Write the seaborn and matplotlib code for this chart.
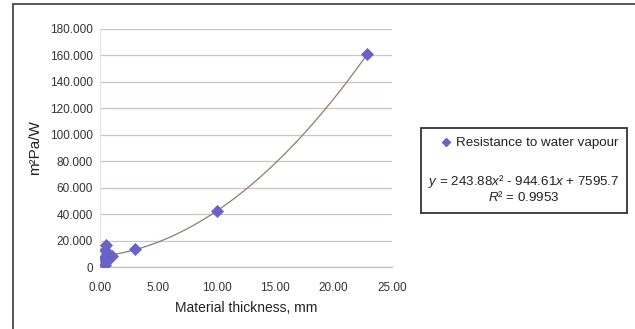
import numpy as np
import pandas as pd
import matplotlib
matplotlib.use("Agg")
import matplotlib.pyplot as plt
from matplotlib.patches import Rectangle
from matplotlib.lines import Line2D
from matplotlib.ticker import FuncFormatter
import seaborn as sns

# Measured samples: thickness (mm) vs. water vapour resistance (m2Pa/W)
thickness_mm = [0.5, 0.4, 0.6, 0.3, 0.5, 0.4, 0.8, 1.0, 3.0, 10.0, 22.9]
resistance = [17000, 13000, 10000, 7000, 4000, 1500, 8000, 8500, 14000, 42000, 161000]

series_label = "Resistance to water vapour"
equation_text = r"$y$ = 243.88$x$² - 944.61$x$ + 7595.7"
r2_text = r"$R$² = 0.9953"

x_ticks = [0, 5, 10, 15, 20, 25]
y_ticks = [0, 20000, 40000, 60000, 80000, 100000, 120000, 140000, 160000, 180000]

df = pd.DataFrame({"thickness": thickness_mm, "resistance": resistance})

sns.set_style("white")
plt.rcParams["font.family"] = ["Liberation Sans", "DejaVu Sans"]
plt.rcParams["mathtext.fontset"] = "custom"
plt.rcParams["mathtext.it"] = "Liberation Sans:italic"
plt.rcParams["mathtext.rm"] = "Liberation Sans"

fig = plt.figure(figsize=(6.35, 3.29), dpi=100)
ax = fig.add_axes([0.1575, 0.1884, 0.4595, 0.7236])

marker_color = "#6a62c6"
trend_color = "#8c7d74"

# Second-order trendline fitted to the samples
sns.regplot(data=df, x="thickness", y="resistance", order=2, ci=None,
            scatter=False, truncate=True, ax=ax,
            line_kws=dict(color=trend_color, lw=0.9))
sns.scatterplot(data=df, x="thickness", y="resistance", ax=ax,
                marker="D", s=38, color=marker_color, edgecolor=marker_color,
                linewidth=0.5, zorder=5, legend=False)

ax.set_xlim(0, 25)
ax.set_ylim(0, 180000)
ax.set_xticks(x_ticks)
ax.set_yticks(y_ticks)
ax.xaxis.set_major_formatter(FuncFormatter(lambda v, p: f"{v:.2f}"))
ax.yaxis.set_major_formatter(
    FuncFormatter(lambda v, p: "0" if v == 0 else f"{int(v):,}".replace(",", ".")))
ax.tick_params(axis="both", labelsize=8.5, colors="#333333", length=0)
ax.tick_params(axis="x", pad=11)
ax.tick_params(axis="y", pad=5)
ax.grid(axis="y", color="#cfc5c0", lw=0.9)
ax.set_axisbelow(True)
for side in ["top", "right"]:
    ax.spines[side].set_visible(False)
ax.spines["left"].set_color("#e4e4e4")
ax.spines["bottom"].set_color("#c8bfba")
ax.spines["left"].set_linewidth(0.8)
ax.spines["bottom"].set_linewidth(0.9)

ax.set_xlabel("Material thickness, mm", fontsize=10, color="#222222", labelpad=5)
ax.set_ylabel("m²Pa/W", fontsize=11, color="#222222", labelpad=6)

# Chart frame (top and left edges)
fig.add_artist(Line2D([13 / 635, 13 / 635], [0, 1 - 4 / 329],
                      transform=fig.transFigure, color="#555555", lw=1.4))
fig.add_artist(Line2D([13 / 635, 1], [1 - 4 / 329, 1 - 4 / 329],
                      transform=fig.transFigure, color="#555555", lw=1.4))

# Legend box with trendline equation
box_l, box_r, box_t, box_b = 421, 627, 128, 213
fig.add_artist(Rectangle((box_l / 635, 1 - box_b / 329), (box_r - box_l) / 635,
                         (box_b - box_t) / 329, transform=fig.transFigure,
                         fill=False, edgecolor="#333333", lw=1.3))
handle = Line2D([], [], marker="D", ls="none", color=marker_color, markersize=4)
fig.legend([handle], [series_label], loc="center",
           bbox_to_anchor=(529 / 635, 1 - 143 / 329),
           frameon=False, fontsize=9.6, handletextpad=0.3, handlelength=1.0,
           borderpad=0, labelcolor="#222222")
cx = (box_l + box_r) / 2 / 635
fig.text(cx, 1 - 181 / 329, equation_text, ha="center", va="center",
         fontsize=9.6, color="#222222")
fig.text(cx, 1 - 197 / 329, r2_text, ha="center", va="center",
         fontsize=9.6, color="#222222")

fig.savefig("out.png", dpi=100)
